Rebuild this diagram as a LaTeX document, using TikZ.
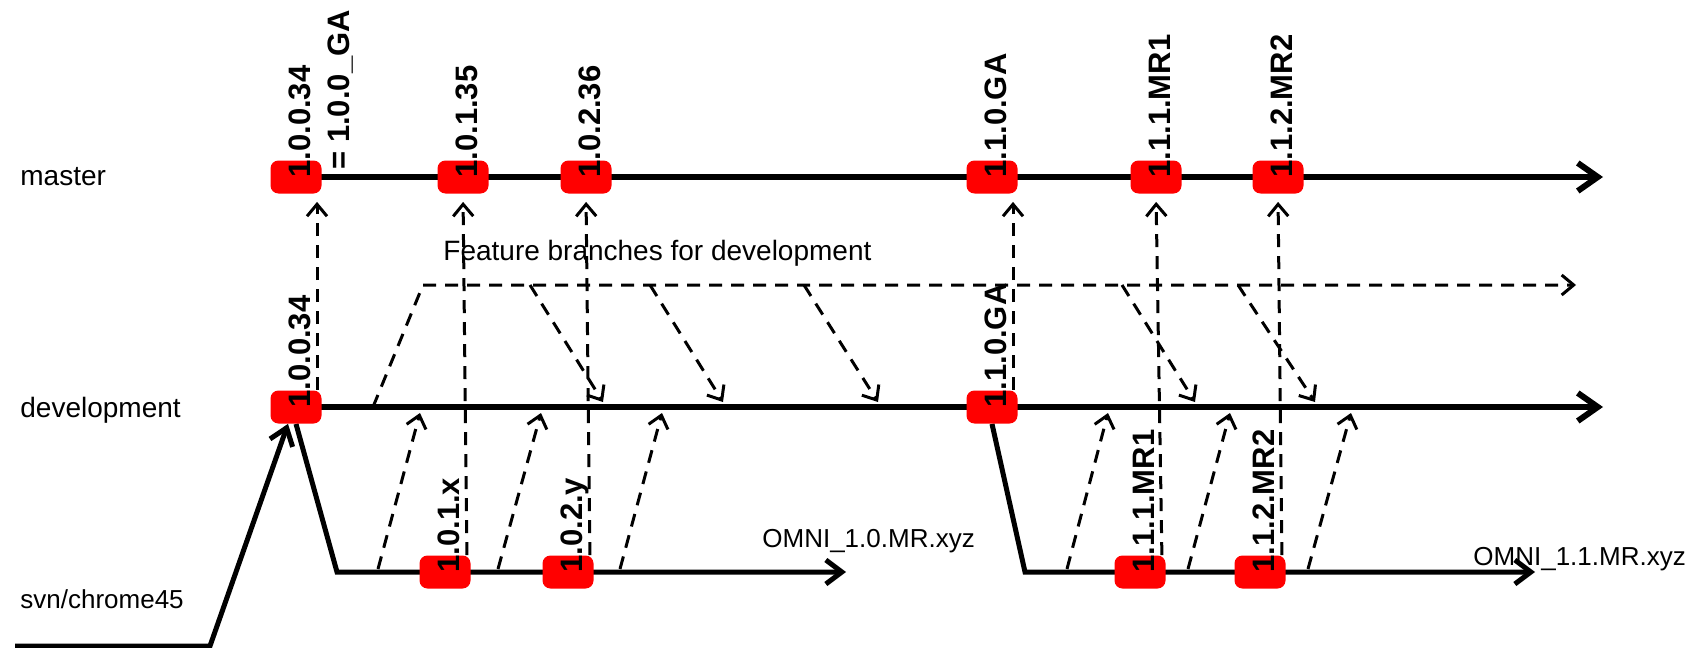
\documentclass[tikz,border=0pt]{standalone}
\usepackage{fontspec}
\setmainfont{Liberation Sans}
\usepackage{tikz}
\definecolor{tagred}{RGB}{255,0,0}
\usetikzlibrary{arrows.meta,backgrounds}

\begin{document}
\begin{tikzpicture}[
      x=0.5pt,y=-0.5pt,
      tag/.style={rectangle,rounded corners=4pt,fill=tagred,minimum width=25.5pt,
        minimum height=16.5pt,inner sep=0pt},
      ver/.style={rotate=90,anchor=base west,inner sep=0pt,
        font=\bfseries\fontsize{15.5}{18}\selectfont},
      branch/.style={anchor=base west,inner sep=0pt,font=\fontsize{14}{16}\selectfont},
      note/.style={anchor=base west,inner sep=0pt,font=\fontsize{13}{15}\selectfont},
      trunk/.style={line width=3pt,-{Straight Barb[length=10pt,width=14pt]}},
      svnline/.style={line width=2.5pt,-{Straight Barb[length=8pt,width=12pt]}},
      merge/.style={line width=1.5pt,dash pattern=on 6.5pt off 4.5pt,
        -{Straight Barb[length=6pt,width=10pt]}}
    ]
    \useasboundingbox (0,0) rectangle (1704,648);

    \node[branch] (master) at (20,185) {master};
    \node[branch] (devel) at (20,417) {development};
    \node[note] (svn) at (20,608) {svn/chrome45};

    \foreach \n/\x/\y in {m0/296/177,m1/463/177,m2/586/177,m3/992/177,m4/1156/177,m5/1278/177,
                          d0/296/407,d1/992/407,s0/445/572,s1/568/572,s2/1140/572,s3/1260/572}
      \node[tag] (\n) at (\x,\y) {};

    \foreach \n/\t in {m0/1.0.0.34,m1/1.0.1.35,m2/1.0.2.36,m3/1.1.0.GA,m4/1.1.1.MR1,m5/1.1.2.MR2,
                       d0/1.0.0.34,d1/1.1.0.GA,s0/1.0.1.x,s1/1.0.2.y,s2/1.1.1.MR1,s3/1.1.2.MR2}
      \node[ver] (\n-v) at ([xshift=7pt,yshift=-0.5pt]\n.center) {\t};
    \node[ver] (m0-ga) at ([xshift=26.5pt,yshift=3.5pt]m0.center) {= 1.0.0\_GA};

    \coordinate (mEnd) at (1603,177);
    \coordinate (dEnd) at (1603,407);
    \coordinate (in0) at (15,646);
    \coordinate (in1) at (210,646);
    \coordinate (c0) at (337,572);
    \coordinate (sEnd0) at (846,572);
    \coordinate (c1) at (1025,572);
    \coordinate (sEnd1) at (1535,572);
    \coordinate (f0) at (373,407);
    \coordinate (f1) at (423,285);
    \coordinate (fEnd) at (1576,285);

    \begin{scope}[on background layer]
      \draw[trunk] (m0.center) -- (mEnd);
      \draw[trunk] (d0.center) -- (dEnd);
      \draw[svnline] (d0.south) -- (c0) -- (sEnd0);
      \draw[svnline] (d1.south) -- (c1) -- (sEnd1);
    \end{scope}
    \draw[svnline] (in0) -- (in1) -- ([xshift=-4pt]d0.south);

    \node[note] (omni0) at (762,547) {OMNI\_1.0.MR.xyz};
    \node[note] (omni1) at (1473,565) {OMNI\_1.1.MR.xyz};

    \draw[merge] (f0) -- (f1) -- (fEnd);
    \node[branch] (feat) at (443,260) {Feature branches for development};

    \foreach \i/\a/\b in {1/530/603,2/650/723,3/804/878,4/1122/1195,5/1238/1315}{
      \coordinate (fa\i) at (\a,285);
      \coordinate (fb\i) at (\b,402);
      \draw[merge] (fa\i) -- (fb\i);
    }
    \foreach \i/\a/\b in {1/378/420,2/498/541,3/620/662,4/1067/1108,5/1188/1230,6/1308/1351}{
      \coordinate (sa\i) at (\a,569);
      \coordinate (sb\i) at (\b,413);
      \draw[merge] (sa\i) -- (sb\i);
    }

    \draw[merge,shorten >=4pt] ([xshift=10.5pt]d0.north) -- ([xshift=10.5pt]m0.south);
    \draw[merge,shorten >=4pt] ([xshift=-2pt]s0.north east) -- (m1.south);
    \draw[merge,shorten >=4pt] ([xshift=-2pt]s1.north east) -- (m2.south);
    \draw[merge,shorten >=4pt] ([xshift=10.5pt]d1.north) -- ([xshift=10.5pt]m3.south);
    \draw[merge,shorten >=4pt] ([xshift=-2pt]s2.north east) -- (m4.south);
    \draw[merge,shorten >=4pt] ([xshift=-2pt]s3.north east) -- (m5.south);
  \end{tikzpicture}
\end{document}
